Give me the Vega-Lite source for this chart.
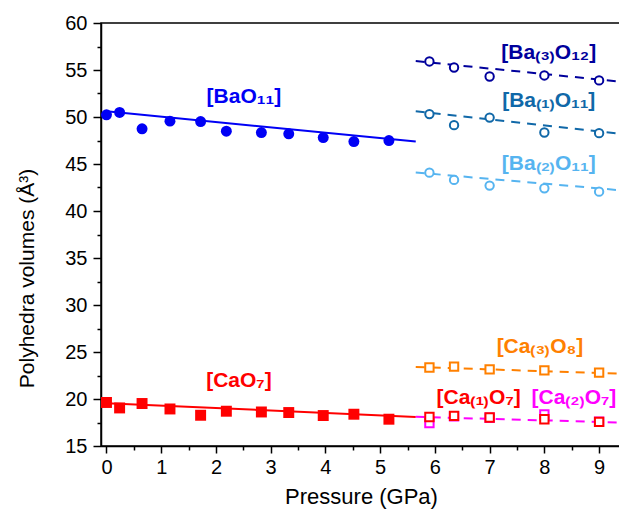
{
  "$schema": "https://vega.github.io/schema/vega-lite/v6.json",
  "width": 520,
  "height": 423,
  "autosize": {"type": "none"},
  "padding": {"left": 101, "top": 23, "right": 0, "bottom": 68},
  "config": {
    "view": {"stroke": "black", "strokeWidth": 1.5},
    "font": "Liberation Sans",
    "axis": {
      "domainColor": "black", "domainWidth": 1.5,
      "tickColor": "black", "tickWidth": 1.5,
      "labelColor": "black", "labelFont": "Liberation Sans", "labelFontSize": 20,
      "titleColor": "black", "titleFont": "Liberation Sans", "titleFontSize": 21, "titleFontWeight": "normal",
      "grid": false
    }
  },
  "datasets": {
    "points": [
      {"series": "BaO11", "p": 0, "v": 50.23}, {"series": "BaO11", "p": 0.24, "v": 50.48}, {"series": "BaO11", "p": 0.65, "v": 48.74},
      {"series": "BaO11", "p": 1.16, "v": 49.56}, {"series": "BaO11", "p": 1.72, "v": 49.52}, {"series": "BaO11", "p": 2.19, "v": 48.49},
      {"series": "BaO11", "p": 2.83, "v": 48.35}, {"series": "BaO11", "p": 3.33, "v": 48.21}, {"series": "BaO11", "p": 3.96, "v": 47.81},
      {"series": "BaO11", "p": 4.52, "v": 47.39}, {"series": "BaO11", "p": 5.16, "v": 47.49},
      {"series": "CaO7", "p": 0, "v": 19.63}, {"series": "CaO7", "p": 0.24, "v": 19.05}, {"series": "CaO7", "p": 0.65, "v": 19.52},
      {"series": "CaO7", "p": 1.16, "v": 18.94}, {"series": "CaO7", "p": 1.72, "v": 18.27}, {"series": "CaO7", "p": 2.19, "v": 18.70},
      {"series": "CaO7", "p": 2.83, "v": 18.62}, {"series": "CaO7", "p": 3.33, "v": 18.56}, {"series": "CaO7", "p": 3.96, "v": 18.24},
      {"series": "CaO7", "p": 4.52, "v": 18.38}, {"series": "CaO7", "p": 5.16, "v": 17.85},
      {"series": "Ba3O12", "p": 5.9, "v": 55.91}, {"series": "Ba3O12", "p": 6.35, "v": 55.27}, {"series": "Ba3O12", "p": 7.0, "v": 54.31},
      {"series": "Ba3O12", "p": 8.0, "v": 54.42}, {"series": "Ba3O12", "p": 9.0, "v": 53.89},
      {"series": "Ba1O11", "p": 5.9, "v": 50.31}, {"series": "Ba1O11", "p": 6.35, "v": 49.13}, {"series": "Ba1O11", "p": 7.0, "v": 49.94},
      {"series": "Ba1O11", "p": 8.0, "v": 48.35}, {"series": "Ba1O11", "p": 9.0, "v": 48.28},
      {"series": "Ba2O11", "p": 5.9, "v": 44.08}, {"series": "Ba2O11", "p": 6.35, "v": 43.31}, {"series": "Ba2O11", "p": 7.0, "v": 42.70},
      {"series": "Ba2O11", "p": 8.0, "v": 42.42}, {"series": "Ba2O11", "p": 9.0, "v": 42.06},
      {"series": "Ca3O8", "p": 5.9, "v": 23.35}, {"series": "Ca3O8", "p": 6.35, "v": 23.45}, {"series": "Ca3O8", "p": 7.0, "v": 23.15},
      {"series": "Ca3O8", "p": 8.0, "v": 23.05}, {"series": "Ca3O8", "p": 9.0, "v": 22.8},
      {"series": "Ca2O7", "p": 5.9, "v": 17.45}, {"series": "Ca2O7", "p": 6.35, "v": 18.15}, {"series": "Ca2O7", "p": 7.0, "v": 18.0},
      {"series": "Ca2O7", "p": 8.0, "v": 18.35}, {"series": "Ca2O7", "p": 9.0, "v": 17.6},
      {"series": "Ca1O7", "p": 5.9, "v": 18.09}, {"series": "Ca1O7", "p": 6.35, "v": 18.2}, {"series": "Ca1O7", "p": 7.0, "v": 18.03},
      {"series": "Ca1O7", "p": 8.0, "v": 17.85}, {"series": "Ca1O7", "p": 9.0, "v": 17.56}
    ],
    "fits": [
      {"series": "BaO11", "kind": "solid", "p": 0, "v": 50.6}, {"series": "BaO11", "kind": "solid", "p": 5.65, "v": 47.4},
      {"series": "CaO7", "kind": "solid", "p": 0, "v": 19.55}, {"series": "CaO7", "kind": "solid", "p": 5.65, "v": 18.09},
      {"series": "Ba3O12", "kind": "dashed", "p": 5.65, "v": 55.95}, {"series": "Ba3O12", "kind": "dashed", "p": 9.4, "v": 53.75},
      {"series": "Ba1O11", "kind": "dashed", "p": 5.65, "v": 50.6}, {"series": "Ba1O11", "kind": "dashed", "p": 9.4, "v": 48.2},
      {"series": "Ba2O11", "kind": "dashed", "p": 5.65, "v": 44.1}, {"series": "Ba2O11", "kind": "dashed", "p": 9.4, "v": 42.2},
      {"series": "Ca3O8", "kind": "dashed", "p": 5.65, "v": 23.4}, {"series": "Ca3O8", "kind": "dashed", "p": 9.4, "v": 22.7},
      {"series": "Ca2O7", "kind": "dashed", "p": 5.65, "v": 18.1}, {"series": "Ca2O7", "kind": "dashed", "p": 9.4, "v": 17.5}
    ],
    "labels": [
      {"series": "BaO11", "text": "[BaO₁₁]", "p": 2.51, "v": 52.15},
      {"series": "Ba3O12", "text": "[Ba₍₃₎O₁₂]", "p": 8.08, "v": 56.84},
      {"series": "Ba1O11", "text": "[Ba₍₁₎O₁₁]", "p": 8.08, "v": 51.72},
      {"series": "Ba2O11", "text": "[Ba₍₂₎O₁₁]", "p": 8.08, "v": 45.01},
      {"series": "CaO7", "text": "[CaO₇]", "p": 2.42, "v": 21.9},
      {"series": "Ca3O8", "text": "[Ca₍₃₎O₈]", "p": 7.92, "v": 25.5},
      {"series": "Ca1O7", "text": "[Ca₍₁₎O₇]", "p": 6.80, "v": 20.1},
      {"series": "Ca2O7", "text": "[Ca₍₂₎O₇]", "p": 8.54, "v": 20.1}
    ]
  },
  "encoding": {
    "x": {"field": "p", "type": "quantitative", "axis": null, "scale": {"domain": [-0.1, 9.4], "nice": false, "zero": false}},
    "y": {"field": "v", "type": "quantitative", "axis": null, "scale": {"domain": [15, 60], "nice": false, "zero": false}},
    "color": {
      "field": "series", "type": "nominal", "legend": null,
      "scale": {
        "domain": ["BaO11", "Ba3O12", "Ba1O11", "Ba2O11", "CaO7", "Ca3O8", "Ca1O7", "Ca2O7"],
        "range": ["#0000F5", "#00009C", "#1068A8", "#56B4F0", "#FF0000", "#FF8000", "#FF0000", "#FF00FF"]
      }
    }
  },
  "layer": [
    {
      "data": {"name": "points"},
      "mark": {"type": "point", "opacity": 0},
      "encoding": {
        "x": {"field": "p", "type": "quantitative", "axis": {"orient": "bottom", "values": [0.5, 1.5, 2.5, 3.5, 4.5, 5.5, 6.5, 7.5, 8.5], "labels": false, "tickSize": 4, "domain": false, "title": null}},
        "y": {"field": "v", "type": "quantitative", "axis": {"orient": "left", "values": [17.5, 22.5, 27.5, 32.5, 37.5, 42.5, 47.5, 52.5, 57.5], "labels": false, "tickSize": 4, "domain": false, "title": null}}
      }
    },
    {
      "data": {"name": "fits"},
      "transform": [{"filter": "datum.kind === 'solid'"}],
      "mark": {"type": "line", "strokeWidth": 2, "clip": true},
      "encoding": {
        "x": {"field": "p", "type": "quantitative", "axis": {"orient": "bottom", "values": [0, 1, 2, 3, 4, 5, 6, 7, 8, 9], "tickSize": 7, "labelPadding": 4, "title": "Pressure (GPa)", "titleFontSize": 22, "titlePadding": 9}},
        "y": {"field": "v", "type": "quantitative", "axis": {"orient": "left", "values": [15, 20, 25, 30, 35, 40, 45, 50, 55, 60], "tickSize": 8, "labelPadding": 6, "title": "Polyhedra volumes (Å³)", "titlePadding": 27, "titleY": 255}}
      }
    },
    {
      "data": {"name": "fits"},
      "transform": [{"filter": "datum.kind === 'dashed'"}],
      "mark": {"type": "line", "strokeWidth": 2, "strokeDash": [9, 7], "clip": true},
      "encoding": {"detail": {"field": "series"}}
    },
    {
      "data": {"name": "points"},
      "transform": [{"filter": "datum.series === 'BaO11'"}],
      "mark": {"type": "point", "shape": "circle", "filled": true, "opacity": 1, "size": 120}
    },
    {
      "data": {"name": "points"},
      "transform": [{"filter": "datum.series === 'CaO7'"}],
      "mark": {"type": "point", "shape": "square", "filled": true, "opacity": 1, "size": 120}
    },
    {
      "data": {"name": "points"},
      "transform": [{"filter": "indexof(['Ba3O12','Ba1O11','Ba2O11'], datum.series) >= 0"}],
      "mark": {"type": "point", "shape": "circle", "filled": false, "fill": "white", "fillOpacity": 1, "opacity": 1, "strokeWidth": 2, "size": 70}
    },
    {
      "data": {"name": "points"},
      "transform": [{"filter": "indexof(['Ca3O8','Ca2O7','Ca1O7'], datum.series) >= 0"}],
      "mark": {"type": "point", "shape": "square", "filled": false, "fill": "white", "fillOpacity": 1, "opacity": 1, "strokeWidth": 2, "size": 70}
    },
    {
      "data": {"name": "labels"},
      "mark": {"type": "text", "font": "Liberation Sans", "fontWeight": "bold", "fontSize": 21, "align": "center", "baseline": "middle"},
      "encoding": {"text": {"field": "text"}}
    }
  ],
  "resolve": {"axis": {"x": "independent", "y": "independent"}}
}
